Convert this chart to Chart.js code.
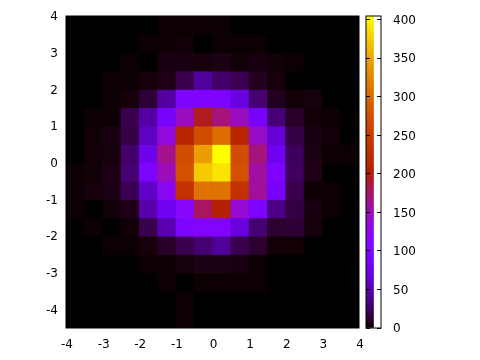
<!DOCTYPE html>
<html>
<head>
<meta charset="utf-8">
<style>
  html, body { margin: 0; padding: 0; background: #fff; }
  canvas { position: absolute; left: 0; top: 0; }
</style>
<script src="https://cdn.jsdelivr.net/npm/chart.js@4"></script>
</head>
<body>
<canvas id="heat" width="480" height="360"></canvas>
<canvas id="cbar" width="480" height="360"></canvas>
<script>
// bin edges, rows run from top (3.5..4) to bottom (-4.5..-4)
const xBins = [-4, -3.5, -3, -2.5, -2, -1.5, -1, -0.5, 0, 0.5, 1, 1.5, 2, 2.5, 3, 3.5];
const yBins = [3.5, 3, 2.5, 2, 1.5, 1, 0.5, 0, -0.5, -1, -1.5, -2, -2.5, -3, -3.5, -4, -4.5];
const binSize = 0.5;

// counts
const counts = [
  [0, 0, 0, 0, 0, 1, 1, 1, 1, 0, 0, 0, 0, 0, 0, 0],
  [0, 0, 0, 0, 1, 1, 2, 0, 1, 1, 1, 0, 0, 0, 0, 0],
  [0, 0, 0, 1, 0, 4, 4, 3, 5, 2, 4, 2, 1, 0, 0, 0],
  [0, 0, 1, 1, 3, 5, 20, 42, 28, 22, 8, 3, 0, 0, 0, 0],
  [0, 0, 1, 3, 14, 44, 98, 100, 100, 70, 30, 8, 2, 3, 0, 0],
  [0, 1, 1, 20, 45, 90, 148, 195, 170, 148, 90, 32, 10, 2, 1, 0],
  [0, 2, 4, 18, 55, 135, 215, 270, 305, 215, 145, 65, 18, 4, 2, 0],
  [0, 2, 3, 28, 75, 165, 270, 345, 405, 270, 170, 80, 24, 5, 1, 1],
  [1, 2, 5, 30, 98, 150, 275, 375, 390, 275, 158, 100, 25, 6, 0, 0],
  [1, 3, 5, 22, 58, 120, 235, 310, 310, 235, 160, 90, 20, 1, 1, 0],
  [1, 0, 2, 6, 48, 80, 115, 178, 205, 140, 100, 35, 17, 4, 1, 0],
  [0, 1, 0, 2, 20, 50, 98, 105, 105, 68, 30, 12, 14, 3, 0, 0],
  [0, 0, 1, 1, 3, 10, 20, 30, 42, 20, 12, 2, 2, 0, 0, 0],
  [0, 0, 0, 0, 1, 1, 3, 5, 5, 4, 1, 0, 0, 0, 0, 0],
  [0, 0, 0, 0, 0, 1, 0, 1, 1, 1, 1, 0, 0, 0, 0, 0],
  [0, 0, 0, 0, 0, 0, 1, 0, 0, 0, 0, 0, 0, 0, 0, 0],
  [0, 0, 0, 0, 0, 0, 1, 0, 0, 0, 0, 0, 0, 0, 0, 0]
];

const xTicks = [-4, -3, -2, -1, 0, 1, 2, 3, 4];
const yTicks = [-4, -3, -2, -1, 0, 1, 2, 3, 4];
const cbTicks = [0, 50, 100, 150, 200, 250, 300, 350, 400];
const cbMax = 405;

const tickFont = { family: '"DejaVu Sans"', size: 12 };
const tickColor = '#000';

// gnuplot default palette (rgbformulae 7,5,15)
function palette(v) {
  const t = Math.min(v / cbMax, 1);
  const r = Math.sqrt(t);
  const g = t * t * t;
  const b = Math.max(Math.sin(2 * Math.PI * t), 0);
  return `rgb(${Math.round(r * 255)},${Math.round(g * 255)},${Math.round(b * 255)})`;
}

// black under the cells so the seams between bars do not show white
const blackBack = {
  id: 'blackBack',
  beforeDatasetsDraw(chart) {
    const a = chart.chartArea, c = chart.ctx;
    c.save();
    c.fillStyle = '#000';
    c.fillRect(a.left, a.top, a.right - a.left, a.bottom - a.top);
    c.restore();
  }
};

// black frame over the marks
const framePlugin = {
  id: 'frame',
  afterDraw(chart) {
    const a = chart.chartArea, c = chart.ctx;
    c.save();
    c.strokeStyle = '#000';
    c.lineWidth = 1;
    c.strokeRect(a.left, a.top, a.right - a.left, a.bottom - a.top);
    c.restore();
  }
};

const heatData = {
  datasets: yBins.map((y, r) => ({
    data: xBins.map(x => ({ x: x + binSize / 2, y: [y, y + binSize] })),
    backgroundColor: counts[r].map(palette),
    barPercentage: 1,
    categoryPercentage: 1,
    grouped: false
  }))
};

new Chart(document.getElementById('heat'), {
  type: 'bar',
  data: heatData,
  options: {
    responsive: false,
    animation: false,
    layout: { padding: { top: 16, right: 121, left: 0, bottom: 0 } },
    plugins: { legend: { display: false }, tooltip: { enabled: false } },
    scales: {
      x: {
        type: 'linear',
        min: -4,
        max: 4,
        offset: false,
        grid: { display: false, drawTicks: false },
        border: { display: false },
        afterBuildTicks: axis => { axis.ticks = xTicks.map(v => ({ value: v })); },
        afterFit: axis => { axis.height = 32; },
        ticks: { font: tickFont, color: tickColor, padding: 10, labelOffset: 1, maxRotation: 0, autoSkip: false, callback: v => String(v) }
      },
      y: {
        type: 'linear',
        min: -4.5,
        max: 4,
        grid: { display: false, drawTicks: false },
        border: { display: false },
        afterBuildTicks: axis => { axis.ticks = yTicks.map(v => ({ value: v })); },
        afterFit: axis => { axis.width = 66; },
        ticks: { font: tickFont, color: tickColor, padding: 8, labelOffset: 1, autoSkip: false, callback: v => String(v) }
      }
    }
  },
  plugins: [blackBack, framePlugin]
});

// colour box: one bar filled with the palette as a gradient
new Chart(document.getElementById('cbar'), {
  type: 'bar',
  data: {
    labels: ['cb'],
    datasets: [{
      data: [[0, cbMax]],
      barPercentage: 1,
      categoryPercentage: 1,
      backgroundColor(ctx) {
        const { chart } = ctx;
        if (!chart.chartArea) return '#000';
        const g = chart.ctx.createLinearGradient(0, chart.chartArea.bottom, 0, chart.chartArea.top);
        for (let i = 0; i <= 64; i++) g.addColorStop(i / 64, palette(cbMax * i / 64));
        return g;
      }
    }]
  },
  options: {
    responsive: false,
    animation: false,
    layout: { padding: { top: 16, left: 366, right: 0, bottom: 32 } },
    plugins: { legend: { display: false }, tooltip: { enabled: false } },
    scales: {
      x: { display: false, offset: false },
      y: {
        position: 'right',
        min: 0,
        max: cbMax,
        grid: { display: true, drawTicks: false, z: 1, color: '#000', lineWidth: 1 },
        border: { display: false, dash: [4, 7] },
        afterBuildTicks: axis => { axis.ticks = cbTicks.map(v => ({ value: v })); },
        afterFit: axis => { axis.width = 99; axis.paddingTop = 0; axis.paddingBottom = 0; },
        ticks: { font: tickFont, color: tickColor, padding: 12, labelOffset: 1, autoSkip: false, callback: v => String(v) }
      }
    }
  },
  plugins: [framePlugin]
});
</script>
</body>
</html>
